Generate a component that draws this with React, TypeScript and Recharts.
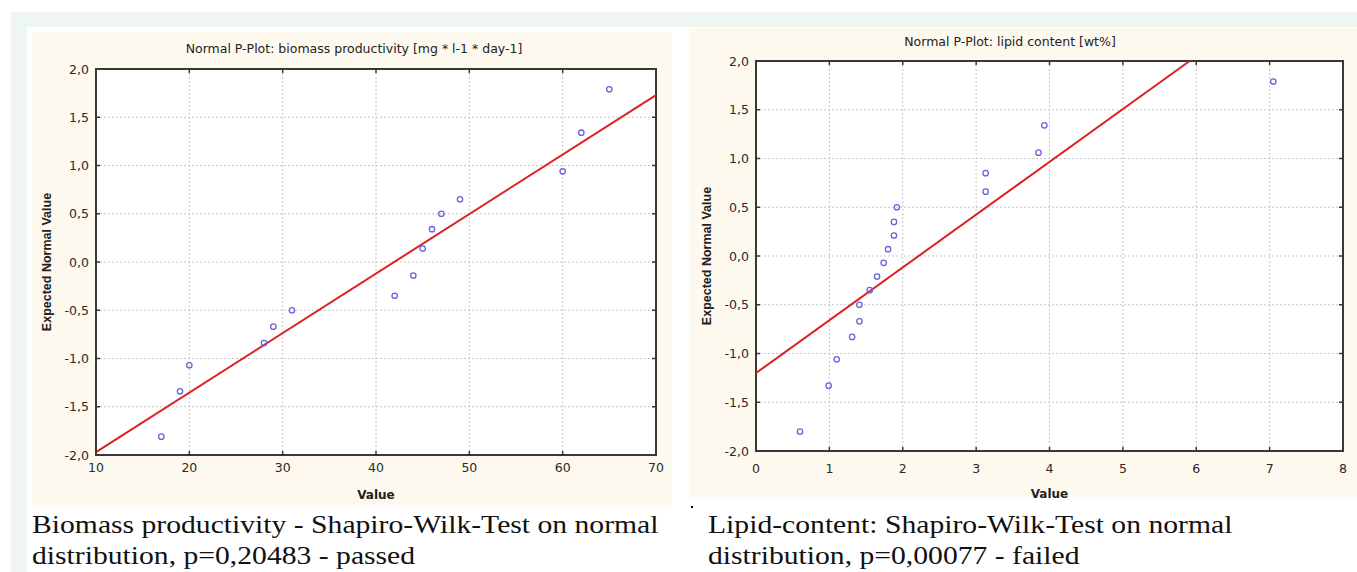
import React from "react";
import { ScatterChart, Scatter, XAxis, YAxis, CartesianGrid, ReferenceLine, ReferenceArea } from "recharts";

// shared y axis (expected normal value)
const yTicks = [-2, -1.5, -1, -0.5, 0, 0.5, 1, 1.5, 2];

// biomass productivity [mg * l-1 * day-1]
const biomassTicks = [10, 20, 30, 40, 50, 60, 70];
const biomassValues = [17, 19, 20, 28, 29, 31, 42, 44, 45, 46, 47, 49, 60, 62, 65];
const biomassExpected = [-1.81, -1.34, -1.07, -0.84, -0.67, -0.5, -0.35, -0.14, 0.14, 0.34, 0.5, 0.65, 0.94, 1.34, 1.79];
const biomassFitX = [10, 70];
const biomassFitY = [-1.97, 1.73];

// lipid content [wt%]
const lipidTicks = [0, 1, 2, 3, 4, 5, 6, 7, 8];
const lipidValues = [0.6, 0.99, 1.1, 1.31, 1.41, 1.41, 1.55, 1.65, 1.74, 1.8, 1.88, 1.88, 1.92, 3.13, 3.13, 3.85, 3.93, 7.05];
const lipidExpected = [-1.8, -1.33, -1.06, -0.83, -0.67, -0.5, -0.35, -0.21, -0.07, 0.07, 0.21, 0.35, 0.5, 0.66, 0.85, 1.06, 1.34, 1.79];
const lipidFitX = [0, 5.91];
const lipidFitY = [-1.2, 2.0];

const CREAM = "#fdf9ee";
const GREEN = "#eef6f1";
const AXIS = "#383838";
const CHART_FONT = "'DejaVu Sans', Verdana, sans-serif";
const TICK_LEN = 4;

const commaFmt = (v: number) => v.toFixed(1).replace(".", ",");

function Ring(props: any) {
  const { cx, cy } = props;
  if (cx == null || cy == null) return <g />;
  return <circle cx={cx} cy={cy} r={2.7} fill="none" stroke="#6464dc" strokeWidth={1.3} />;
}

type PlotProps = {
  title: string;
  titleX: number;
  titleY: number;
  xs: number[];
  ys: number[];
  fitX: number[];
  fitY: number[];
  xTicks: number[];
  left: number;
  top: number;
  width: number;
  height: number;
  bgHeight: number;
  axisW: number;
  axisH: number;
  marginTop: number;
  marginRight: number;
  xLabelDy: number;
  yLabelX: number;
  valueY: number;
};

function PPlot(p: PlotProps) {
  const points = p.xs.map((x, i) => ({ x, y: p.ys[i] }));
  const xDomain = [p.xTicks[0], p.xTicks[p.xTicks.length - 1]];
  const plotW = p.width - p.axisW - p.marginRight;
  const plotH = p.height - p.marginTop - p.axisH;
  const plotTop = p.marginTop;
  const plotBottom = p.marginTop + plotH;
  const plotLeft = p.axisW;
  const plotRight = p.axisW + plotW;

  // bottom tick: label plus inward marks on bottom and top frame edges
  const xTick = (tp: any) => {
    const x = tp.x;
    return (
      <g>
        <line x1={x} y1={plotBottom} x2={x} y2={plotBottom - TICK_LEN} stroke={AXIS} strokeWidth={1.5} />
        <line x1={x} y1={plotTop} x2={x} y2={plotTop + TICK_LEN} stroke={AXIS} strokeWidth={1.5} />
        <text
          x={x}
          y={plotBottom + p.xLabelDy}
          textAnchor="middle"
          dominantBaseline="central"
          fontFamily={CHART_FONT}
          fontSize={12.5}
          fill="#2a2a2a"
        >
          {tp.payload.value}
        </text>
      </g>
    );
  };

  // left tick: label plus inward marks on left and right frame edges
  const yTick = (tp: any) => {
    const y = tp.y;
    return (
      <g>
        <line x1={plotLeft} y1={y} x2={plotLeft + TICK_LEN} y2={y} stroke={AXIS} strokeWidth={1.5} />
        <line x1={plotRight} y1={y} x2={plotRight - TICK_LEN} y2={y} stroke={AXIS} strokeWidth={1.5} />
        <text
          x={plotLeft - 7}
          y={y}
          textAnchor="end"
          dominantBaseline="central"
          fontFamily={CHART_FONT}
          fontSize={12.5}
          fill="#2a2a2a"
        >
          {commaFmt(tp.payload.value)}
        </text>
      </g>
    );
  };

  return (
    <>
      <div style={{ position: "absolute", left: p.left, top: p.top, width: p.width, height: p.bgHeight, background: CREAM }} />
      <div
        style={{
          position: "absolute",
          left: p.left + plotLeft,
          top: p.top + plotTop,
          width: plotW,
          height: plotH,
          background: "#fff",
        }}
      />
      <div
        style={{
          position: "absolute",
          left: p.titleX,
          top: p.titleY,
          transform: "translate(-50%, -50%)",
          whiteSpace: "nowrap",
          fontFamily: CHART_FONT,
          fontSize: 12.5,
          color: "#222",
        }}
      >
        {p.title}
      </div>
      <div style={{ position: "absolute", left: p.left, top: p.top }}>
        <ScatterChart
          width={p.width}
          height={p.height}
          margin={{ top: p.marginTop, right: p.marginRight, bottom: 0, left: 0 }}
        >
          <CartesianGrid stroke="#c6c6c6" strokeDasharray="2 2" />
          <XAxis
            type="number"
            dataKey="x"
            domain={xDomain}
            ticks={p.xTicks}
            interval={0}
            height={p.axisH}
            axisLine={false}
            tickLine={false}
            tick={xTick}
            label={(lp: any) => {
              const vb = lp.viewBox;
              return (
                <text
                  x={vb.x + vb.width / 2}
                  y={p.valueY}
                  textAnchor="middle"
                  dominantBaseline="central"
                  fontFamily={CHART_FONT}
                  fontWeight="bold"
                  fontSize={12}
                  fill="#222"
                >
                  Value
                </text>
              );
            }}
          />
          <YAxis
            type="number"
            dataKey="y"
            domain={[-2, 2]}
            ticks={yTicks}
            interval={0}
            width={p.axisW}
            axisLine={false}
            tickLine={false}
            tick={yTick}
            label={(lp: any) => {
              const vb = lp.viewBox;
              const cx = p.yLabelX;
              const cy = vb.y + vb.height / 2;
              return (
                <text
                  x={cx}
                  y={cy}
                  transform={`rotate(-90 ${cx} ${cy})`}
                  textAnchor="middle"
                  dominantBaseline="central"
                  fontFamily="'Liberation Sans', Arial, sans-serif"
                  fontWeight="bold"
                  fontSize={12.5}
                  fill="#222"
                >
                  Expected Normal Value
                </text>
              );
            }}
          />
          <ReferenceArea
            x1={xDomain[0]}
            x2={xDomain[1]}
            y1={-2}
            y2={2}
            fill="none"
            fillOpacity={0}
            stroke={AXIS}
            strokeWidth={2}
          />
          <ReferenceLine
            segment={[
              { x: p.fitX[0], y: p.fitY[0] },
              { x: p.fitX[1], y: p.fitY[1] },
            ]}
            stroke="#dd2020"
            strokeWidth={2}
          />
          <Scatter data={points} isAnimationActive={false} shape={Ring} />
        </ScatterChart>
      </div>
    </>
  );
}

const captionStyle: React.CSSProperties = {
  position: "absolute",
  top: 509,
  fontFamily: "'Liberation Serif', 'Times New Roman', serif",
  fontSize: 26,
  lineHeight: "31px",
  color: "#111",
  whiteSpace: "nowrap",
  transform: "scaleX(1.14)",
  transformOrigin: "left top",
};

export default function App() {
  return (
    <div style={{ position: "absolute", left: 0, top: 0, width: 1357, height: 572, background: "#fff", overflow: "hidden" }}>
      <div style={{ position: "absolute", left: 11, top: 12, right: 0, bottom: 0, background: GREEN }} />
      <div style={{ position: "absolute", left: 27, top: 27, right: 0, bottom: 0, background: "#fff" }} />

      <PPlot
        title="Normal P-Plot: biomass productivity [mg * l-1 * day-1]"
        titleX={354}
        titleY={48}
        xs={biomassValues}
        ys={biomassExpected}
        fitX={biomassFitX}
        fitY={biomassFitY}
        xTicks={biomassTicks}
        left={32}
        top={32}
        width={640}
        height={473}
        bgHeight={473}
        axisW={64}
        axisH={50}
        marginTop={37}
        marginRight={16}
        xLabelDy={12}
        yLabelX={15}
        valueY={463}
      />

      <PPlot
        title="Normal P-Plot: lipid content [wt%]"
        titleX={1010}
        titleY={41}
        xs={lipidValues}
        ys={lipidExpected}
        fitX={lipidFitX}
        fitY={lipidFitY}
        xTicks={lipidTicks}
        left={689}
        top={28}
        width={668}
        height={475}
        bgHeight={469}
        axisW={67}
        axisH={52}
        marginTop={33}
        marginRight={14}
        xLabelDy={17}
        yLabelX={18}
        valueY={466}
      />

      <div style={{ position: "absolute", left: 691, top: 506, width: 2, height: 2, background: "#000" }} />

      <div style={{ ...captionStyle, left: 32 }}>
        Biomass productivity - Shapiro-Wilk-Test on normal
        <br />
        distribution, p=0,20483 - passed
      </div>
      <div style={{ ...captionStyle, left: 708 }}>
        Lipid-content: Shapiro-Wilk-Test on normal
        <br />
        distribution, p=0,00077 - failed
      </div>
    </div>
  );
}
